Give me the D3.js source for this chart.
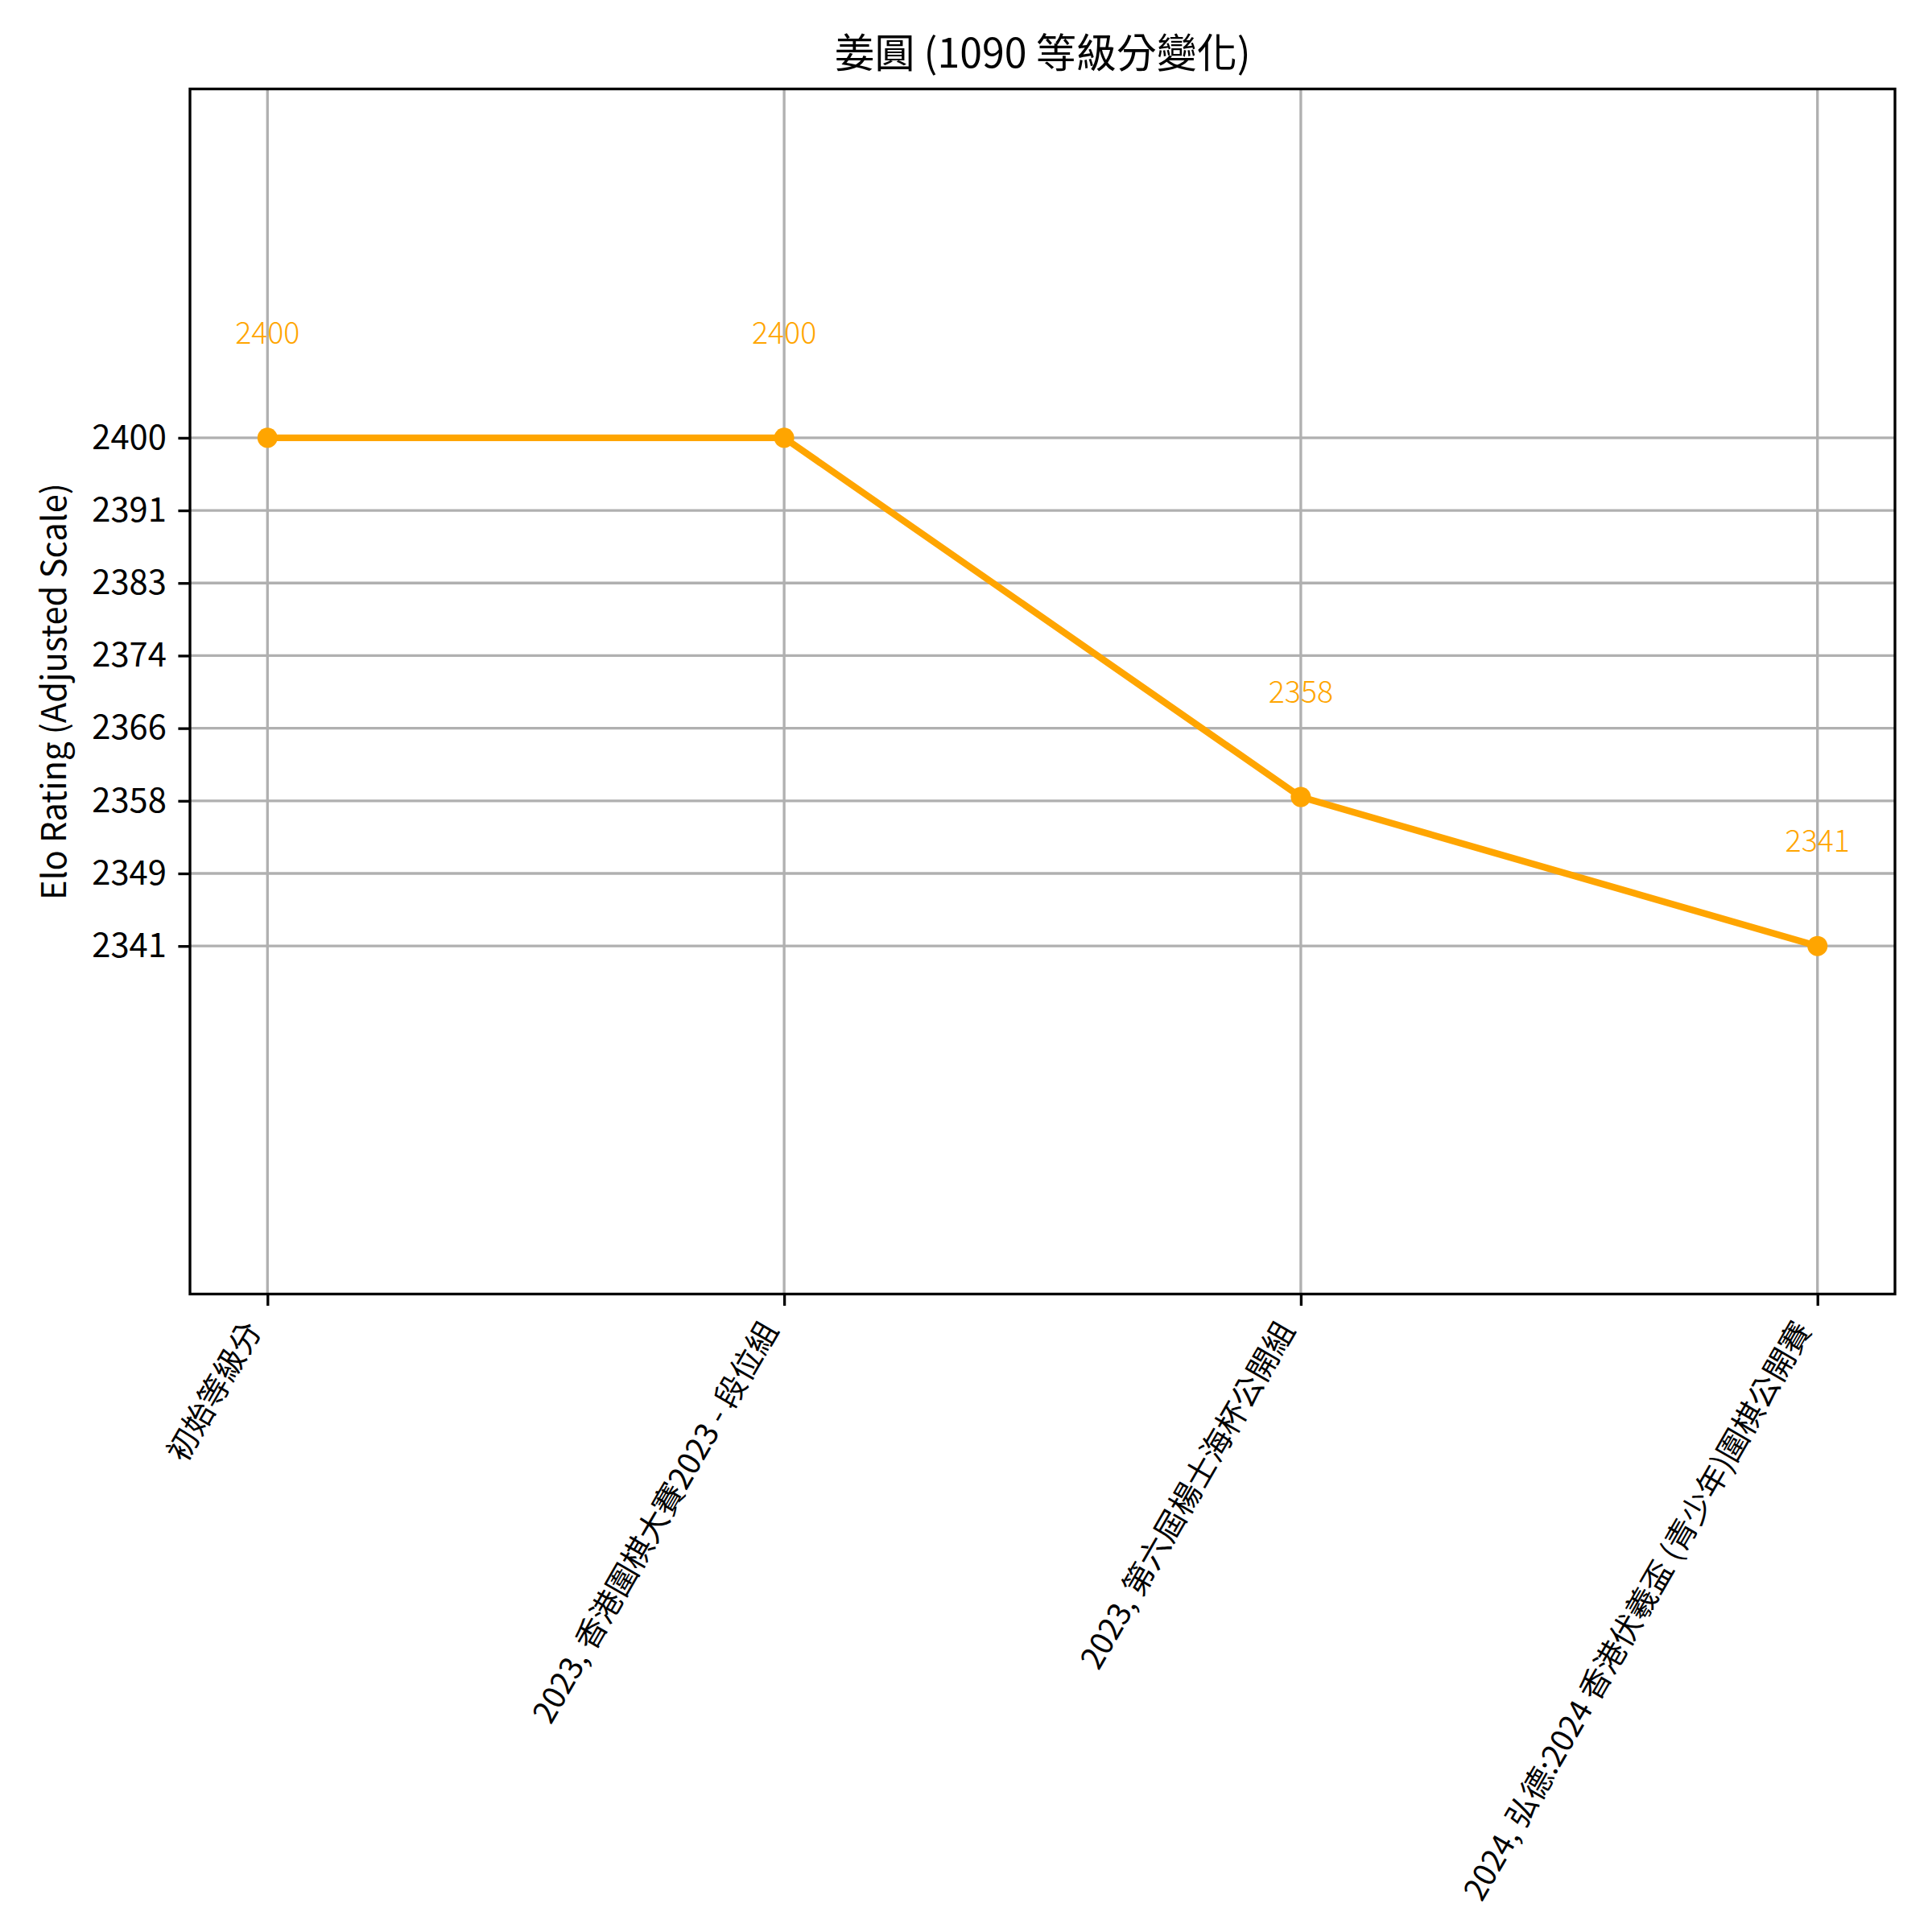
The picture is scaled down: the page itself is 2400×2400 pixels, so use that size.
<!DOCTYPE html>
<html>
<head>
<meta charset="utf-8">
<script src="https://cdn.jsdelivr.net/npm/d3@7"></script>
<style>
  html, body { margin: 0; padding: 0; background: #fff; }
  svg { display: block; }
  text { font-family: "Noto Sans CJK TC", "Noto Sans CJK SC", "Noto Sans", sans-serif; }
</style>
</head>
<body>
<svg id="chart" width="2400" height="2400"></svg>
<script>
// ---- data ----
const categories = [
  "初始等級分",
  "2023, 香港圍棋大賽2023 - 段位組",
  "2023, 第六屆楊士海杯公開組",
  "2024, 弘德:2024 香港伏羲盃 (青少年)圍棋公開賽"
];
const ratings = [2400, 2400, 2358.3, 2341];
const yTickLabels = ["2341", "2349", "2358", "2366", "2374", "2383", "2391", "2400"];
const titleText = "姜圓 (1090 等級分變化)";
const yLabelText = "Elo Rating (Adjusted Scale)";

(function () {
// ---- layout ----
const W = 2400, H = 2400;
const pL = 236, pR = 2354, pT = 110.5, pB = 1607.5;
const lineColor = "#FFA500";
const gridColor = "#b0b0b0";
const lw = 3.33;

const svg = d3.select("#chart");
svg.append("rect").attr("width", W).attr("height", H).attr("fill", "#fff");

const x = d3.scaleLinear().domain([-0.15, categories.length - 1 + 0.15]).range([pL, pR]);
const yMin = 2341, yMax = 2400;
const y = d3.scaleLinear().domain([yMin - 40.4, yMax + 40.5]).range([pB, pT]);
const yTicks = yTickLabels.map((_, i) => yMin + (yMax - yMin) * i / (yTickLabels.length - 1));

// grid
const g = svg.append("g");
g.selectAll("line.vgrid").data(categories).enter().append("line")
  .attr("x1", (d, i) => x(i)).attr("x2", (d, i) => x(i))
  .attr("y1", pT).attr("y2", pB)
  .attr("stroke", gridColor).attr("stroke-width", lw);
g.selectAll("line.hgrid").data(yTicks).enter().append("line")
  .attr("x1", pL).attr("x2", pR)
  .attr("y1", d => y(d)).attr("y2", d => y(d))
  .attr("stroke", gridColor).attr("stroke-width", lw);

// y axis
const yAxis = d3.axisLeft(y).tickValues(yTicks)
  .tickFormat((d, i) => yTickLabels[i]).tickSize(14.6).tickPadding(14.6);
const ya = svg.append("g").attr("transform", `translate(${pL},0)`).call(yAxis);
ya.select(".domain").remove();
ya.selectAll(".tick line").attr("stroke", "#000").attr("stroke-width", lw);
ya.selectAll(".tick text").attr("font-size", 41.7).attr("fill", "#000")
  .attr("font-family", "'Noto Sans CJK TC', sans-serif");

// x axis
const xAxis = d3.axisBottom(x).tickValues(d3.range(categories.length))
  .tickFormat((d) => categories[d]).tickSize(14.6).tickPadding(0);
const xa = svg.append("g").attr("transform", `translate(0,${pB})`).call(xAxis);
xa.select(".domain").remove();
xa.selectAll(".tick line").attr("stroke", "#000").attr("stroke-width", lw);
const fs = 38.5;
xa.selectAll(".tick text")
  .attr("font-size", fs).attr("fill", "#000")
  .attr("font-family", "'Noto Sans CJK TC', sans-serif")
  .attr("text-anchor", "end")
  .attr("dy", null)
  .attr("y", null)
  .attr("transform", `translate(${-0.866 * fs * 0.2},${14.6 + 14.6 + 0.5 * fs * 0.8}) rotate(-60)`);

// frame
svg.append("rect").attr("x", pL).attr("y", pT)
  .attr("width", pR - pL).attr("height", pB - pT)
  .attr("fill", "none").attr("stroke", "#000").attr("stroke-width", lw);

// line
const line = d3.line().x((d, i) => x(i)).y(d => y(d));
svg.append("path").datum(ratings).attr("d", line)
  .attr("fill", "none").attr("stroke", lineColor).attr("stroke-width", 8.33)
  .attr("stroke-linejoin", "round").attr("stroke-linecap", "butt");
svg.selectAll("circle.pt").data(ratings).enter().append("circle")
  .attr("cx", (d, i) => x(i)).attr("cy", d => y(d)).attr("r", 12.5)
  .attr("fill", lineColor);

// annotations
svg.selectAll("text.ann").data(ratings).enter().append("text")
  .attr("x", (d, i) => x(i)).attr("y", d => y(d) - 117)
  .attr("text-anchor", "middle").attr("font-size", 37.5).attr("font-weight", 300)
  .attr("fill", lineColor)
  .text(d => Math.round(d));

// title
svg.append("text").attr("x", (pL + pR) / 2).attr("y", 84)
  .attr("text-anchor", "middle").attr("font-size", 50).attr("fill", "#000")
  .text(titleText);

// y label
svg.append("text")
  .attr("transform", `translate(82,${(pT + pB) / 2}) rotate(-90)`)
  .attr("text-anchor", "middle").attr("font-size", 41.7).attr("fill", "#000")
  .text(yLabelText);
})();
</script>
</body>
</html>
